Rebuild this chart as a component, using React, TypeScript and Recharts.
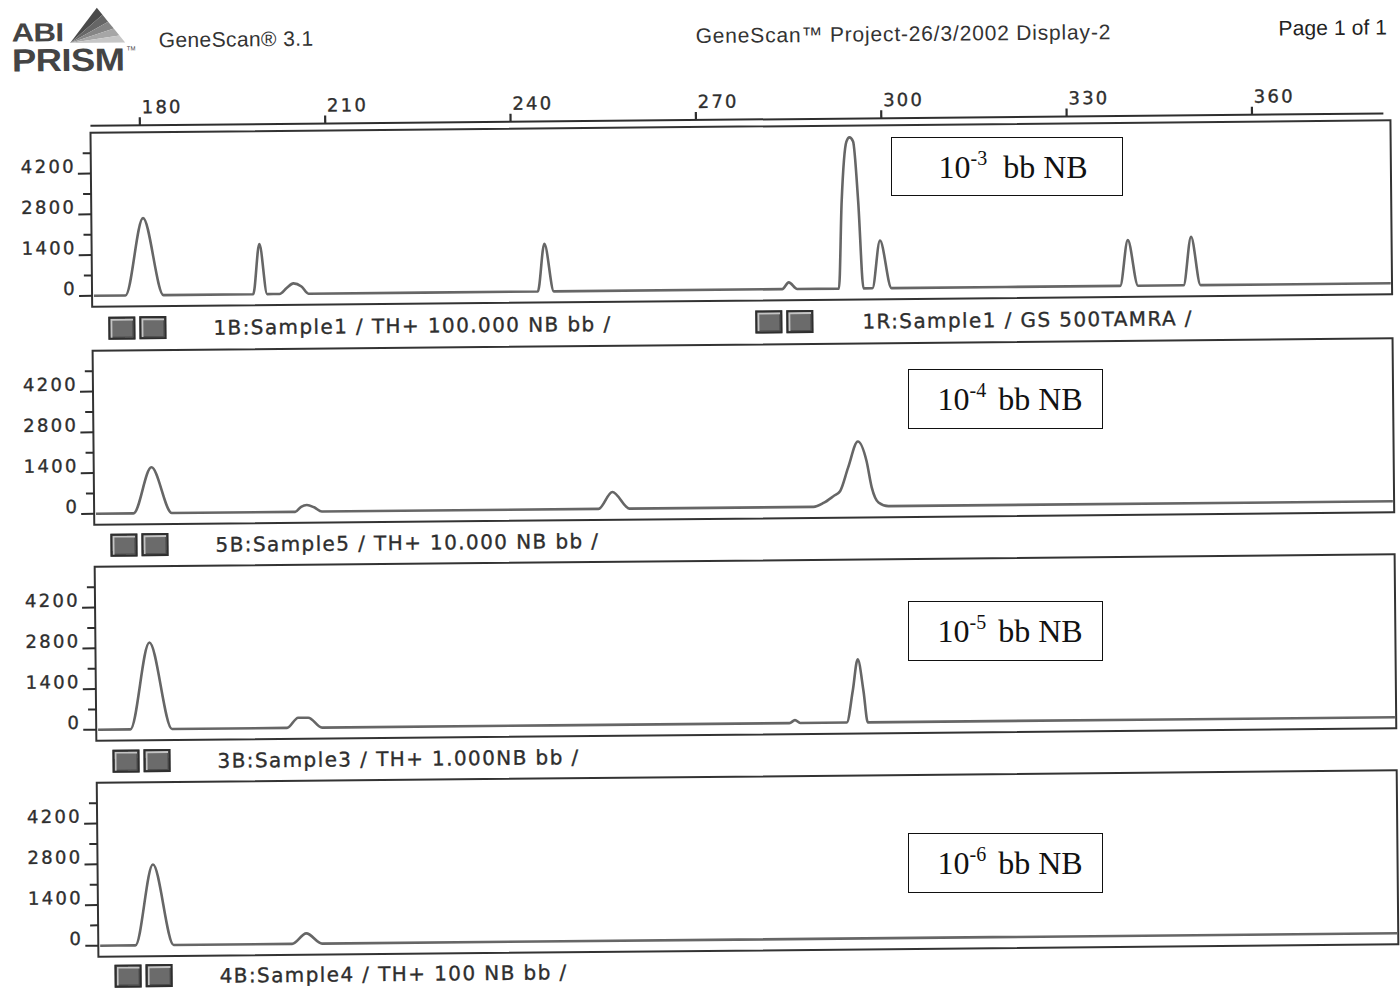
import React from 'react';
import { LineChart, Line, XAxis, YAxis } from 'recharts';

// ---- axis values ----
const sizeDomain: [number, number] = [172, 382.4];
const rfuDomain: [number, number] = [-380, 5600];
const sizeTicks = [180, 210, 240, 270, 300, 330, 360];
const rfuTicks = [0, 700, 1400, 2100, 2800, 3500, 4200, 4900];
const rfuLabelTicks = [0, 1400, 2800, 4200];

// ---- traces (size in bp, signal in RFU) ----
const trace1 = [
  { bp: 172.3, rfu: 0 },
  { bp: 177.41, rfu: 0 }, { bp: 180.37, rfu: 2650 }, { bp: 183.56, rfu: 0 },
  { bp: 198.08, rfu: 0 }, { bp: 199.15, rfu: 1720 }, { bp: 200.34, rfu: 0 },
  { bp: 202.33, rfu: 0 }, { bp: 203.5, rfu: 200 }, { bp: 204.6, rfu: 360 }, { bp: 205.9, rfu: 250 }, { bp: 207.03, rfu: 0 },
  { bp: 244.14, rfu: 0 }, { bp: 245.28, rfu: 1640 }, { bp: 246.74, rfu: 0 },
  { bp: 283.7, rfu: 0 }, { bp: 284.77, rfu: 230 }, { bp: 286.13, rfu: 0 },
  { bp: 292.88, rfu: 0 }, { bp: 293.46, rfu: 3000 }, { bp: 294.32, rfu: 5050 }, { bp: 294.82, rfu: 5195 },
  { bp: 295.4, rfu: 5050 }, { bp: 296.13, rfu: 3000 }, { bp: 296.86, rfu: 0 },
  { bp: 298.3, rfu: 0 }, { bp: 299.6, rfu: 1640 }, { bp: 301.39, rfu: 0 },
  { bp: 338.4, rfu: 0 }, { bp: 339.71, rfu: 1570 }, { bp: 341.29, rfu: 0 },
  { bp: 348.66, rfu: 0 }, { bp: 349.95, rfu: 1660 }, { bp: 351.41, rfu: 0 },
  { bp: 382.2, rfu: 0 },
];

const trace2 = [
  { bp: 172.3, rfu: 0 },
  { bp: 178.36, rfu: 0 }, { bp: 181.34, rfu: 1580 }, { bp: 184.58, rfu: 0 },
  { bp: 204.53, rfu: 0 }, { bp: 205.5, rfu: 170 }, { bp: 206.43, rfu: 230 }, { bp: 207.6, rfu: 150 }, { bp: 208.86, rfu: 0 },
  { bp: 253.63, rfu: 0 }, { bp: 255.9, rfu: 575 }, { bp: 258.65, rfu: 0 },
  { bp: 288.43, rfu: 0 }, { bp: 290.05, rfu: 130 }, { bp: 291.67, rfu: 360 }, { bp: 292.75, rfu: 530 },
  { bp: 294.09, rfu: 1335 }, { bp: 295.71, rfu: 2230 }, { bp: 297.07, rfu: 1565 }, { bp: 297.88, rfu: 650 },
  { bp: 298.95, rfu: 130 }, { bp: 300.57, rfu: 0 },
  { bp: 382.2, rfu: 0 },
];

const trace3 = [
  { bp: 172.3, rfu: 0 },
  { bp: 177.52, rfu: 0 }, { bp: 180.74, rfu: 2980 }, { bp: 184.27, rfu: 0 },
  { bp: 202.88, rfu: 0 }, { bp: 204.71, rfu: 345 }, { bp: 206.33, rfu: 345 }, { bp: 208.55, rfu: 0 },
  { bp: 284.2, rfu: 0 }, { bp: 285.1, rfu: 100 }, { bp: 285.95, rfu: 0 },
  { bp: 293.48, rfu: 0 }, { bp: 294.49, rfu: 1080 }, { bp: 295.35, rfu: 2170 }, { bp: 296.23, rfu: 1080 }, { bp: 296.88, rfu: 0 },
  { bp: 382.2, rfu: 0 },
];

const trace4 = [
  { bp: 172.3, rfu: 0 },
  { bp: 178.0, rfu: 0 }, { bp: 180.97, rfu: 2775 }, { bp: 184.2, rfu: 0 },
  { bp: 203.37, rfu: 0 }, { bp: 205.68, rfu: 355 }, { bp: 208.23, rfu: 0 },
  { bp: 382.2, rfu: 0 },
];

const traces = [trace1, trace2, trace3, trace4];
const sampleCaptions = [
  '1B:Sample1 / TH+ 100.000 NB bb /',
  '5B:Sample5 / TH+ 10.000 NB bb /',
  '3B:Sample3 / TH+ 1.000NB bb /',
  '4B:Sample4 / TH+ 100 NB bb /',
];
const standardCaption = '1R:Sample1 / GS 500TAMRA /';
const dilutionExponents = ['-3', '-4', '-5', '-6'];
const headerLeft = 'GeneScan® 3.1';
const headerCenter = 'GeneScan™ Project-26/3/2002 Display-2';
const headerRight = 'Page 1 of 1';
const logoTop = 'ABI';
const logoBottom = 'PRISM';

// ---- layout (styles only) ----
const PLOT_LEFT = 94;
const PLOT_W = 1300;
const BOX_H = 174;
const panelTops = [127, 345, 561, 777];
const captionCenters = [323, 540, 756, 971];
const labelBoxes = [
  { left: 891, top: 137, width: 232, height: 59, textLeft: 939 },
  { left: 908, top: 369, width: 195, height: 60, textLeft: 938 },
  { left: 908, top: 601, width: 195, height: 60, textLeft: 938 },
  { left: 908, top: 833, width: 195, height: 60, textLeft: 938 },
];

const INK = '#2e2e2e';
const TRACE = '#666';
const GENEVA = '"DejaVu Sans", Verdana, sans-serif';

const SizeTick = (props: any) => {
  const { x, y, payload } = props;
  return (
    <g>
      <line x1={x} x2={x} y1={y - 7} y2={y - 15} stroke={INK} strokeWidth={2.2} />
      <text x={x + 2} y={y - 19} textAnchor="start" fontFamily={GENEVA} fontSize={18} fill={INK}
        stroke={INK} strokeWidth={0.35} style={{ letterSpacing: '2.2px' }}>{payload.value}</text>
    </g>
  );
};

const RfuTick = (props: any) => {
  const { x, y, payload } = props;
  const major = rfuLabelTicks.includes(payload.value);
  return (
    <g>
      <line x1={x - (major ? 13 : 8)} x2={x} y1={y} y2={y} stroke={INK} strokeWidth={2} />
      {major && (
        <text x={x - 15} y={y - 1} textAnchor="end" fontFamily={GENEVA} fontSize={18} fill={INK}
          stroke={INK} strokeWidth={0.35} style={{ letterSpacing: '2.3px' }}>{payload.value}</text>
      )}
    </g>
  );
};

const Icons = ({ left, center }: { left: number; center: number }) => (
  <>
    {[0, 31].map((dx) => (
      <div key={dx} style={{
        position: 'absolute', left: left + dx, top: center - 12, width: 27, height: 23,
        boxSizing: 'border-box', border: '2px solid #2e2e2e', background: '#6b6b6b',
        boxShadow: 'inset 2px 2px 0 #c4c4c4, inset -1px -1px 0 #4a4a4a',
      }} />
    ))}
  </>
);

const Caption = ({ left, center, text }: { left: number; center: number; text: string }) => (
  <div style={{
    position: 'absolute', left, top: center - 8, fontFamily: GENEVA, fontSize: 20, lineHeight: '16px',
    letterSpacing: '1.4px', color: INK, whiteSpace: 'pre', WebkitTextStroke: '0.35px #2e2e2e',
  }}>{text}</div>
);

const Panel = ({ index }: { index: number }) => {
  const top = panelTops[index];
  const withAxis = index === 0;
  const axisH = withAxis ? 40 : 0;
  return (
    <>
      <div style={{
        position: 'absolute', left: PLOT_LEFT - 1.25, top: top - 1.25, width: PLOT_W + 2.5, height: BOX_H + 2.5,
        border: '2.5px solid #333', boxSizing: 'border-box',
      }} />
      <div style={{ position: 'absolute', left: 0, top: top - axisH }}>
        <LineChart width={1400} height={BOX_H + axisH} data={traces[index]}
          margin={{ top: 0, right: 1400 - PLOT_LEFT - PLOT_W, bottom: 0, left: 0 }}>
          <XAxis type="number" dataKey="bp" domain={sizeDomain} allowDataOverflow orientation="top"
            height={axisH} hide={!withAxis} ticks={sizeTicks} interval={0} tickSize={0} tickMargin={0}
            axisLine={false} tickLine={false} tick={<SizeTick />} />
          <YAxis type="number" domain={rfuDomain} allowDataOverflow width={PLOT_LEFT} ticks={rfuTicks}
            interval={0} tickSize={0} tickMargin={0} axisLine={false} tickLine={false} tick={<RfuTick />} />
          <Line type="monotone" dataKey="rfu" stroke={TRACE} strokeWidth={2.6} dot={false}
            isAnimationActive={false} />
        </LineChart>
      </div>
      <Icons left={110} center={captionCenters[index]} />
      <Caption left={215} center={captionCenters[index]} text={sampleCaptions[index]} />
      {index === 0 && (
        <>
          <Icons left={757} center={captionCenters[index]} />
          <Caption left={864} center={captionCenters[index]} text={standardCaption} />
        </>
      )}
    </>
  );
};

const Logo = () => (
  <>
    <svg width={150} height={80} style={{ position: 'absolute', left: 0, top: 0 }}>
      {['#4a4a4a', '#666', '#858585', '#a6a6a6', '#c6c6c6'].map((c, i) => {
        const ax = 101.5, ay = 2, bx = 129.5, by = 37;
        const t0 = i / 5, t1 = (i + 1) / 5;
        return (
          <polygon key={i} fill={c}
            points={`74.5,37 ${ax + (bx - ax) * t0},${ay + (by - ay) * t0} ${ax + (bx - ax) * t1},${ay + (by - ay) * t1}`} />
        );
      })}
    </svg>
    <div style={{
      position: 'absolute', left: 16, top: 14, fontFamily: '"Liberation Sans", Arial, sans-serif', fontWeight: 700,
      color: '#444', whiteSpace: 'pre', lineHeight: '25px',
    }}>
      <span style={{ display: 'inline-block', fontSize: 26, letterSpacing: '-0.5px', transform: 'scaleX(1.2)', transformOrigin: '0 0' }}>{logoTop}</span>
      <br />
      <span style={{ display: 'inline-block', fontSize: 32, letterSpacing: '-0.5px', transform: 'scaleX(1.14)', transformOrigin: '0 0' }}>{logoBottom}</span>
    </div>
    <div style={{ position: 'absolute', left: 131, top: 40, fontSize: 6, lineHeight: '6px', color: '#444', fontFamily: 'Arial, sans-serif' }}>TM</div>
  </>
);

const headerStyle: React.CSSProperties = {
  position: 'absolute', fontFamily: '"Liberation Sans", Arial, sans-serif', fontSize: 21,
  lineHeight: '21px', color: '#333', whiteSpace: 'pre', letterSpacing: '0.4px',
};

export default function App() {
  return (
    <div style={{ position: 'absolute', left: 0, top: 0, width: 1400, height: 988, background: '#fff', overflow: 'hidden' }}>
      <div style={{
        position: 'absolute', left: 0, top: 0, width: 1400, height: 988,
        transform: 'rotate(-0.55deg)', transformOrigin: '700px 494px',
      }}>
        <Logo />
        <div style={{ ...headerStyle, left: 163, top: 24 }}>{headerLeft}</div>
        <div style={{ ...headerStyle, left: 700, top: 25, letterSpacing: '0.82px' }}>{headerCenter}</div>
        <div style={{ ...headerStyle, left: 1283, top: 23, color: '#222', letterSpacing: '0.1px' }}>{headerRight}</div>
        <div style={{ position: 'absolute', left: PLOT_LEFT, top: 119, width: 1293, height: 2.4, background: INK }} />
        {traces.map((_, i) => <Panel key={i} index={i} />)}
      </div>
      {labelBoxes.map((b, i) => (
        <div key={i} style={{
          position: 'absolute', left: b.left, top: b.top, width: b.width, height: b.height,
          boxSizing: 'border-box', border: '1.5px solid #111', background: '#fff',
        }}>
          <div style={{
            position: 'absolute', left: b.textLeft - b.left - 1.5, top: 12.5, fontFamily: '"Liberation Serif", "Times New Roman", serif',
            fontSize: 32, lineHeight: '32px', color: '#111', whiteSpace: 'pre',
          }}>
            10<span style={{ fontSize: 20, position: 'relative', top: -13, marginRight: i === 0 ? 0 : 4 }}>{dilutionExponents[i]}</span>{i === 0 ? '  ' : ' '}bb NB
          </div>
        </div>
      ))}
    </div>
  );
}
